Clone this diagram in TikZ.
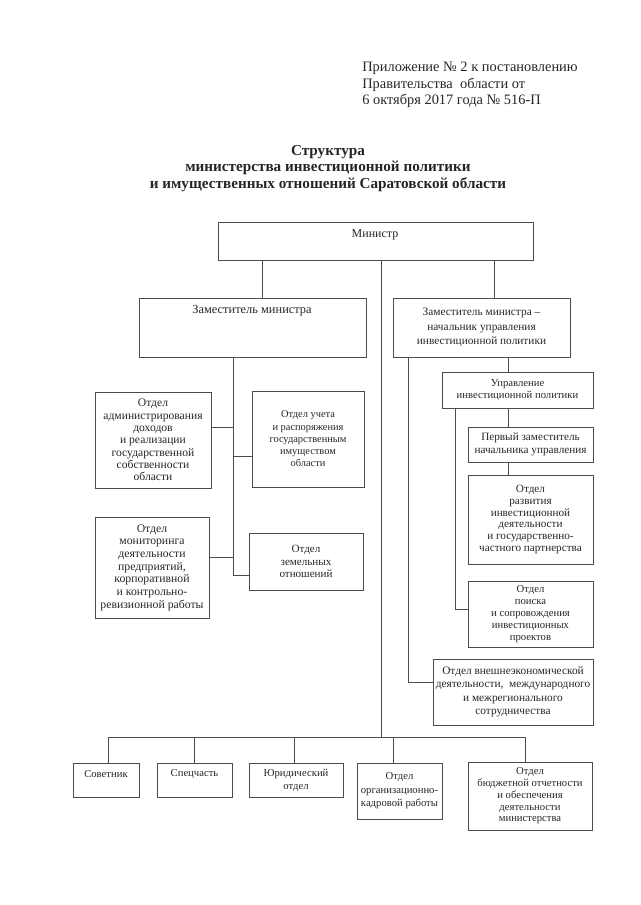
\documentclass[tikz,border=0pt]{standalone}
\usepackage{fontspec}
\setmainfont{Liberation Serif}

\begin{document}
\begin{tikzpicture}[x=0.75pt,y=0.75pt,yscale=-1,xscale=1,
  box/.style={draw=black!70, line width=0.7pt, inner sep=0pt, outer sep=0pt, align=center, text=black!85},
  sz/.style 2 args={minimum width=0.75*#1pt, minimum height=0.75*#2pt},
  fs/.style 2 args={font=\fontsize{#1}{#2}\selectfont},
  txt/.style={inner sep=0pt, align=center, text=black!85},
  con/.style={draw=black!70, line width=0.7pt}]
\useasboundingbox (0,0) rectangle (640,905);

% Text Node
\node[txt, align=left, anchor=north west, fs={10.8}{12.2}] (hdr) at (362,62) {Приложение № 2 к постановлению\\Правительства\ \ области от\\6 октября 2017 года № 516-П};
% Text Node
\node[txt, anchor=north, font=\fontsize{11.4}{12.5}\selectfont\bfseries] (ttl) at (328,145) {Структура\\министерства инвестиционной политики\\и имущественных отношений Саратовской области};

%Shape: Rectangle
\node[box, sz={315}{38}] (min) at (375.5,241) {};
%Shape: Rectangle
\node[box, sz={227}{59}] (dep1) at (252.5,327.5) {};
%Shape: Rectangle
\node[box, sz={177}{59}, fs={8.5}{11}] (dep2) at (481.5,327.5) {Заместитель министра –\\начальник управления\\инвестиционной политики};

%Shape: Rectangle
\node[box, sz={116}{96}, fs={8.7}{9.2}] (adm) at (153,440) {Отдел\\администрирования\\доходов\\и реализации\\государственной\\собственности\\области};
%Shape: Rectangle
\node[box, sz={112}{96}, fs={7.8}{9.2}] (uchet) at (308,439) {Отдел учета\\и распоряжения\\государственным\\имуществом\\области};
%Shape: Rectangle
\node[box, sz={114}{101}, fs={8.8}{9.5}] (monit) at (152,567.5) {Отдел\\мониторинга\\деятельности\\предприятий,\\корпоративной\\и контрольно-\\ревизионной работы};
%Shape: Rectangle
\node[box, sz={114}{57}, fs={8.3}{9.4}] (zem) at (306,561.5) {Отдел\\земельных\\отношений};

%Shape: Rectangle
\node[box, sz={151}{36}, fs={8}{9}] (upr) at (517.5,390) {Управление\\инвестиционной политики};
%Shape: Rectangle
\node[box, sz={125}{35}, fs={8.4}{9.5}] (perv) at (530.5,444.5) {Первый заместитель\\начальника управления};
%Shape: Rectangle
\node[box, sz={125}{89}, fs={8.4}{8.8}] (razv) at (530.5,519.5) {Отдел\\развития\\инвестиционной\\деятельности\\и государственно-\\частного партнерства};
%Shape: Rectangle
\node[box, sz={125}{66}, fs={8}{9}] (poisk) at (530.5,614) {Отдел\\поиска\\и сопровождения\\инвестиционных\\проектов};
%Shape: Rectangle
\node[box, sz={160}{66}, fs={8.5}{10.1}] (vnesh) at (513,692) {Отдел внешнеэкономической\\деятельности,\ \ международного\\и межрегионального\\сотрудничества};

%Shape: Rectangle
\node[box, sz={66}{34}] (sov) at (106,780) {};
%Shape: Rectangle
\node[box, sz={75}{34}] (spec) at (194.5,780) {};
%Shape: Rectangle
\node[box, sz={94}{34}, fs={8}{9.75}] (yur) at (296,780) {Юридический\\отдел};
%Shape: Rectangle
\node[box, sz={85}{56}, fs={8}{10.1}] (org) at (399.5,791) {Отдел\\организационно-\\кадровой работы};
%Shape: Rectangle
\node[box, sz={124}{68}, fs={8}{8.8}] (budg) at (530,796) {Отдел\\бюджетной отчетности\\и обеспечения\\деятельности\\министерства};

% Text Node
\node[txt, fs={9}{10}] (minT) at (375,235) {Министр};
% Text Node
\node[txt, fs={9.3}{10}] (dep1T) at (252,311) {Заместитель министра};
% Text Node
\node[txt, fs={8}{9}] (sovT) at (106,774) {Советник};
% Text Node
\node[txt, fs={8}{9}] (specT) at (194.5,774) {Спецчасть};

\coordinate (bus) at (381,737);
\coordinate (lft) at (233,575);
\coordinate (rgt) at (408,682);
\coordinate (rgt2) at (455,609);

%Straight Lines
\draw[con] (262,0 |- min.south) -- (262,0 |- dep1.north);
%Straight Lines
\draw[con] (494,0 |- min.south) -- (494,0 |- dep2.north);
%Straight Lines
\draw[con] (381,0 |- min.south) -- (bus);

%Straight Lines
\draw[con] (233,0 |- dep1.south) -- (lft) -- (lft -| zem.west);
%Straight Lines
\draw[con] (adm.east |- 0,427) -| (lft);
%Straight Lines
\draw[con] (uchet.west |- 0,456) -| (lft);
%Straight Lines
\draw[con] (monit.east |- 0,557) -| (lft);

%Straight Lines
\draw[con] (408,0 |- dep2.south) -- (rgt) -- (rgt -| vnesh.west);
%Straight Lines
\draw[con] (508,0 |- dep2.south) -- (508,0 |- upr.north);
%Straight Lines
\draw[con] (508,0 |- upr.south) -- (508,0 |- perv.north);
%Straight Lines
\draw[con] (508,0 |- perv.south) -- (508,0 |- razv.north);
%Straight Lines
\draw[con] (455,0 |- upr.south) -- (rgt2) -- (rgt2 -| poisk.west);

%Straight Lines
\draw[con] (108,0 |- bus) -- (525,0 |- bus);
%Straight Lines
\draw[con] (108,0 |- bus) -- (108,0 |- sov.north);
%Straight Lines
\draw[con] (194,0 |- bus) -- (194,0 |- spec.north);
%Straight Lines
\draw[con] (294,0 |- bus) -- (294,0 |- yur.north);
%Straight Lines
\draw[con] (393,0 |- bus) -- (393,0 |- org.north);
%Straight Lines
\draw[con] (525,0 |- bus) -- (525,0 |- budg.north);

\end{tikzpicture}
\end{document}
